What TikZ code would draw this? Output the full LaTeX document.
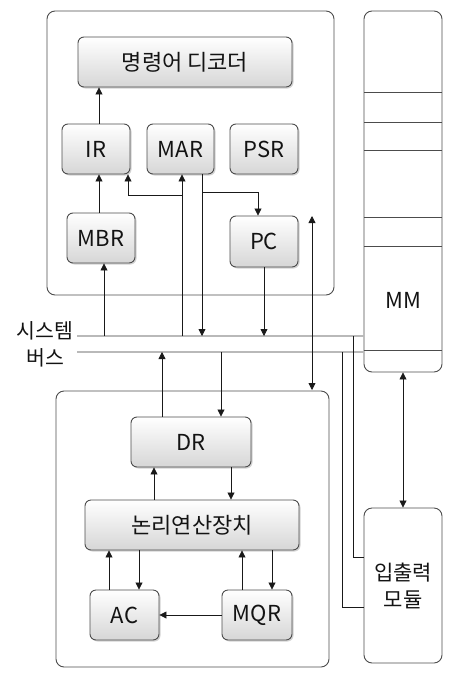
\documentclass[tikz,border=0pt]{standalone}
\usepackage{fontspec}
\setmainfont{Noto Sans CJK KR}
\usepackage{xcolor}
\usetikzlibrary{arrows.meta,shadows,calc}

\tikzset{
    reg/.style={draw=gray!60!black, line width=0.9pt, rounded corners=6pt,
        top color=white, bottom color=gray!32, drop shadow={shadow xshift=1.5pt, shadow yshift=-1.5pt, opacity=0.35},
        minimum height=50, inner sep=0pt, font=\fontsize{22}{24}\selectfont, text=gray!15!black},
    frame/.style={draw=gray!60!black, line width=0.9pt, rounded corners=8pt},
    bus/.style={gray!55, line width=1.8pt},
    wire/.style={gray!20!black, line width=0.8pt}
}

\begin{document}
\begin{tikzpicture}[x=1pt, y=-1pt, >={Triangle[length=7pt,width=7pt]}]
        \useasboundingbox (0,0) rectangle (462,683);
        % frames
        \draw[frame] (47,11) rectangle (334,295);
        \draw[frame] (56,391) rectangle (329,667);
        \node[frame, minimum width=78, minimum height=361, inner sep=0pt] (mm) at (403,191.5) {};
        \node[frame, minimum width=78, minimum height=155, inner sep=0pt, align=center,
            font=\fontsize{21}{27}\selectfont, text=gray!15!black] (io) at (403,585.5) {입출력\\모듈};
        \foreach \y in {92,122,150,217,246,350}
            \draw[gray!60!black, line width=0.9pt] (364,\y) -- (442,\y);
        \node[font=\fontsize{22}{24}\selectfont, text=gray!15!black] at (403,300) {MM};

        % registers
        \node[reg, minimum width=214] (dec) at (185,62) {명령어 디코더};
        \node[reg, minimum width=68] (ir) at (96,149) {IR};
        \node[reg, minimum width=67] (mar) at (180.5,149) {MAR};
        \node[reg, minimum width=68] (psr) at (264,149) {PSR};
        \node[reg, minimum width=68] (mbr) at (101,238) {MBR};
        \node[reg, minimum width=68, minimum height=51] (pc) at (264,241.5) {PC};
        \node[reg, minimum width=120] (dr) at (191,442) {DR};
        \node[reg, minimum width=214] (alu) at (192,525) {논리연산장치};
        \node[reg, minimum width=69] (ac) at (124.5,615) {AC};
        \node[reg, minimum width=70] (mqr) at (257,615) {MQR};

        % system bus
        \coordinate (busA) at (77,336);
        \coordinate (busB) at (77,352);
        \draw[bus] (busA) -- (busA -| mm.west);
        \draw[bus] (busB) -- (busB -| mm.west);
        \node[font=\fontsize{20.5}{22}\selectfont, text=gray!15!black] (lab1) at (45,331) {시스템};
        \node[font=\fontsize{20.5}{22}\selectfont, text=gray!15!black] (lab2) at (45,358) {버스};

        % control unit
        \draw[wire, ->] ([xshift=3]ir.north) -- ([xshift=3]ir.north |- dec.south);
        \draw[wire, ->] ([xshift=-2]mbr.north) -- ([xshift=-2]mbr.north |- ir.south);
        \draw[wire, ->] ([xshift=3]mbr.south |- busA) -- ([xshift=3]mbr.south);
        \draw[wire, ->] ([xshift=1.5]mar.south |- busA) -- ([xshift=1.5]mar.south);
        \draw[wire, ->] ([xshift=1.5]mar.south |- 0,195) -| ([xshift=32]ir.south);
        \draw[wire, ->] ([xshift=21.5]mar.south) -- ([xshift=21.5]mar.south |- busA);
        \draw[wire, ->] ([xshift=21.5]mar.south |- 0,192) -| ([xshift=-6]pc.north);
        \draw[wire, ->] (pc.south) -- (pc.south |- busA);
        \coordinate (ctl) at (312,216);
        \draw[wire, <->] (ctl) -- (312,390);

        % arithmetic unit
        \draw[wire, ->] ([xshift=-29]dr.north) -- ([xshift=-29]dr.north |- busB);
        \draw[wire, ->] ([xshift=30]dr.north |- busB) -- ([xshift=30]dr.north);
        \draw[wire, ->] ([xshift=-37]dr.south |- alu.north) -- ([xshift=-37]dr.south);
        \draw[wire, ->] ([xshift=40]dr.south) -- ([xshift=40]dr.south |- alu.north);
        \draw[wire, ->] ([xshift=-15.5]ac.north) -- ([xshift=-15.5]ac.north |- alu.south);
        \draw[wire, ->] ([xshift=14.5]ac.north |- alu.south) -- ([xshift=14.5]ac.north);
        \draw[wire, ->] ([xshift=-15]mqr.north) -- ([xshift=-15]mqr.north |- alu.south);
        \draw[wire, ->] ([xshift=15]mqr.north |- alu.south) -- ([xshift=15]mqr.north);
        \draw[wire, ->] (mqr.west) -- (ac.east);

        % memory and io
        \draw[wire] (353,336) |- (io.west |- 0,557);
        \draw[wire] (342,352) |- (io.west |- 0,607);
        \draw[wire, <->] (mm.south) -- (io.north);
    \end{tikzpicture}
\end{document}
